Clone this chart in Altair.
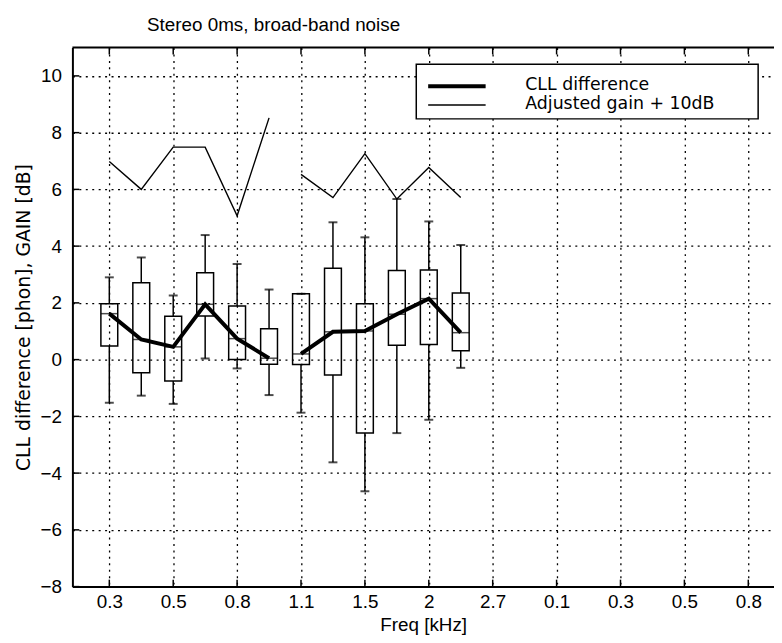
import altair as alt
import pandas as pd

# ---- data ----
pos = list(range(1, 13))
whisker_lo = [-1.52, -1.27, -1.56, 0.04, -0.31, -1.25, -1.87, -3.62, -4.64, -2.59, -2.12, -0.29]
q1 = [0.48, -0.46, -0.75, 1.54, 0.00, -0.16, -0.17, -0.54, -2.59, 0.51, 0.53, 0.31]
median = [1.62, 0.71, 0.45, 1.95, 0.74, 0.05, 0.20, 0.98, 1.01, 1.60, 2.15, 0.95]
q3 = [1.97, 2.71, 1.53, 3.06, 1.89, 1.09, 2.32, 3.22, 1.97, 3.14, 3.16, 2.35]
whisker_hi = [2.90, 3.60, 2.26, 4.39, 3.37, 2.47, 2.32, 4.84, 4.31, 5.66, 4.87, 4.04]
gain = [6.98, 6.00, 7.49, 7.49, 5.07, 8.52, 6.53, 5.71, 7.26, 5.66, 6.77, 5.71]
segment = ["a"] * 6 + ["b"] * 6

tick_pos = [1, 3, 5, 7, 9, 11, 13, 15, 17, 19, 21]
tick_labels = ["0.3", "0.5", "0.8", "1.1", "1.5", "2", "2.7", "0.1", "0.3", "0.5", "0.8"]
y_ticks = [-8, -6, -4, -2, 0, 2, 4, 6, 8, 10]

title_text = "Stereo 0ms, broad-band noise"
legend_labels = ["CLL difference", "Adjusted gain + 10dB"]

# ---- layout ----
W, H = 708, 544
X_DOM = [0, 21.65]
Y_DOM = [-8, 11]
FONT = "Liberation Sans"
FONT_W = "DejaVu Sans"
FS = 19

df = pd.DataFrame(dict(pos=pos, lo=whisker_lo, q1=q1, med=median, q3=q3,
                       hi=whisker_hi, gain=gain, seg=segment))
ticks_x = pd.DataFrame(dict(t=tick_pos))
ticks_y = pd.DataFrame(dict(t=y_ticks))
one = pd.DataFrame(dict(k=[0]))

xs = alt.Scale(domain=X_DOM, nice=False, zero=False)
ys = alt.Scale(domain=Y_DOM, nice=False, zero=False)

label_expr = "[" + ",".join("'%s'" % s for s in tick_labels) + "][(datum.value-1)/2]"

x_axis = alt.Axis(values=tick_pos, labelExpr=label_expr, grid=True, ticks=False,
                  labelPadding=6, title="Freq [kHz]", titlePadding=4)
y_axis = alt.Axis(values=y_ticks, grid=True, ticks=False, labelPadding=11,
                  title="CLL difference [phon], GAIN [dB]", titlePadding=7,
                  titleFont=FONT_W, titleFontSize=19)


def X(field):
    return alt.X(field, type="quantitative", scale=xs, axis=x_axis)


def Y(field):
    return alt.Y(field, type="quantitative", scale=ys, axis=y_axis)


base = alt.Chart(df)

whisk_lo = base.mark_rule(color="black", strokeWidth=1.5).encode(
    x=X("pos"), y=Y("lo"), y2="q1:Q")
whisk_hi = base.mark_rule(color="black", strokeWidth=1.5).encode(
    x=X("pos"), y=Y("q3"), y2="hi:Q")
cap_lo = base.mark_tick(orient="horizontal", color="black", size=9, thickness=2).encode(
    x=X("pos"), y=Y("lo"))
cap_hi = base.mark_tick(orient="horizontal", color="black", size=9, thickness=2).encode(
    x=X("pos"), y=Y("hi"))
boxes = base.mark_bar(size=17, fillOpacity=0, stroke="black", strokeWidth=1.5).encode(
    x=X("pos"), y=Y("q1"), y2="q3:Q")
med = base.mark_tick(orient="horizontal", color="black", size=17, thickness=1.5).encode(
    x=X("pos"), y=Y("med"))
cll = base.mark_line(color="black", strokeWidth=4).encode(
    x=X("pos"), y=Y("med"), detail="seg:N")
gain_line = base.mark_line(color="black", strokeWidth=1.4).encode(
    x=X("pos"), y=Y("gain"), detail="seg:N")

# inward ticks and top border
t_bottom = alt.Chart(ticks_x).mark_rule(color="black", strokeWidth=1.5).encode(
    x=X("t"), y=alt.value(H), y2=alt.value(H - 7))
t_top = alt.Chart(ticks_x).mark_rule(color="black", strokeWidth=1.5).encode(
    x=X("t"), y=alt.value(0), y2=alt.value(7))
t_left = alt.Chart(ticks_y).mark_rule(color="black", strokeWidth=1.5).encode(
    y=Y("t"), x=alt.value(0), x2=alt.value(7))
top_border = alt.Chart(one).mark_rule(color="black", strokeWidth=2).encode(
    x=alt.value(0), x2=alt.value(W), y=alt.value(0))

# legend
leg_box = alt.Chart(one).mark_rect(fill="white", stroke="black", strokeWidth=1.5).encode(
    x=alt.value(347), x2=alt.value(692), y=alt.value(17), y2=alt.value(72))
leg_l1 = alt.Chart(one).mark_rule(color="black", strokeWidth=4).encode(
    x=alt.value(359), x2=alt.value(417), y=alt.value(39))
leg_l2 = alt.Chart(one).mark_rule(color="black", strokeWidth=1.4).encode(
    x=alt.value(359), x2=alt.value(417), y=alt.value(58))
leg_t1 = alt.Chart(one).mark_text(align="left", baseline="middle", font=FONT_W, fontSize=17.5,
                                  color="black").encode(
    x=alt.value(457), y=alt.value(38), text=alt.value(legend_labels[0]))
leg_t2 = alt.Chart(one).mark_text(align="left", baseline="middle", font=FONT_W, fontSize=17.5,
                                  color="black").encode(
    x=alt.value(457), y=alt.value(57), text=alt.value(legend_labels[1]))

title = alt.Chart(one).mark_text(align="center", baseline="alphabetic", font=FONT,
                                 fontSize=FS, color="black").encode(
    x=alt.value(203), y=alt.value(-17), text=alt.value(title_text))

chart = alt.layer(
    whisk_lo, whisk_hi, cap_lo, cap_hi, boxes, med, gain_line, cll,
    t_bottom, t_top, t_left, top_border,
    leg_box, leg_l1, leg_l2, leg_t1, leg_t2, title
).properties(
    width=W, height=H,
    autosize=alt.AutoSizeParams(type="none"),
    padding={"left": 65, "top": 37, "right": 0, "bottom": 50},
    background="white",
).configure_view(stroke=None).configure_axis(
    labelFont=FONT, labelFontSize=FS, labelColor="black",
    titleFont=FONT, titleFontSize=FS, titleFontWeight="normal", titleColor="black",
    domainColor="black", domainWidth=2,
    gridColor="black", gridDash=[2, 4.5], gridWidth=1.3, gridOpacity=1,
)

chart.save("out.html", embed_options={"renderer": "svg", "actions": False})
